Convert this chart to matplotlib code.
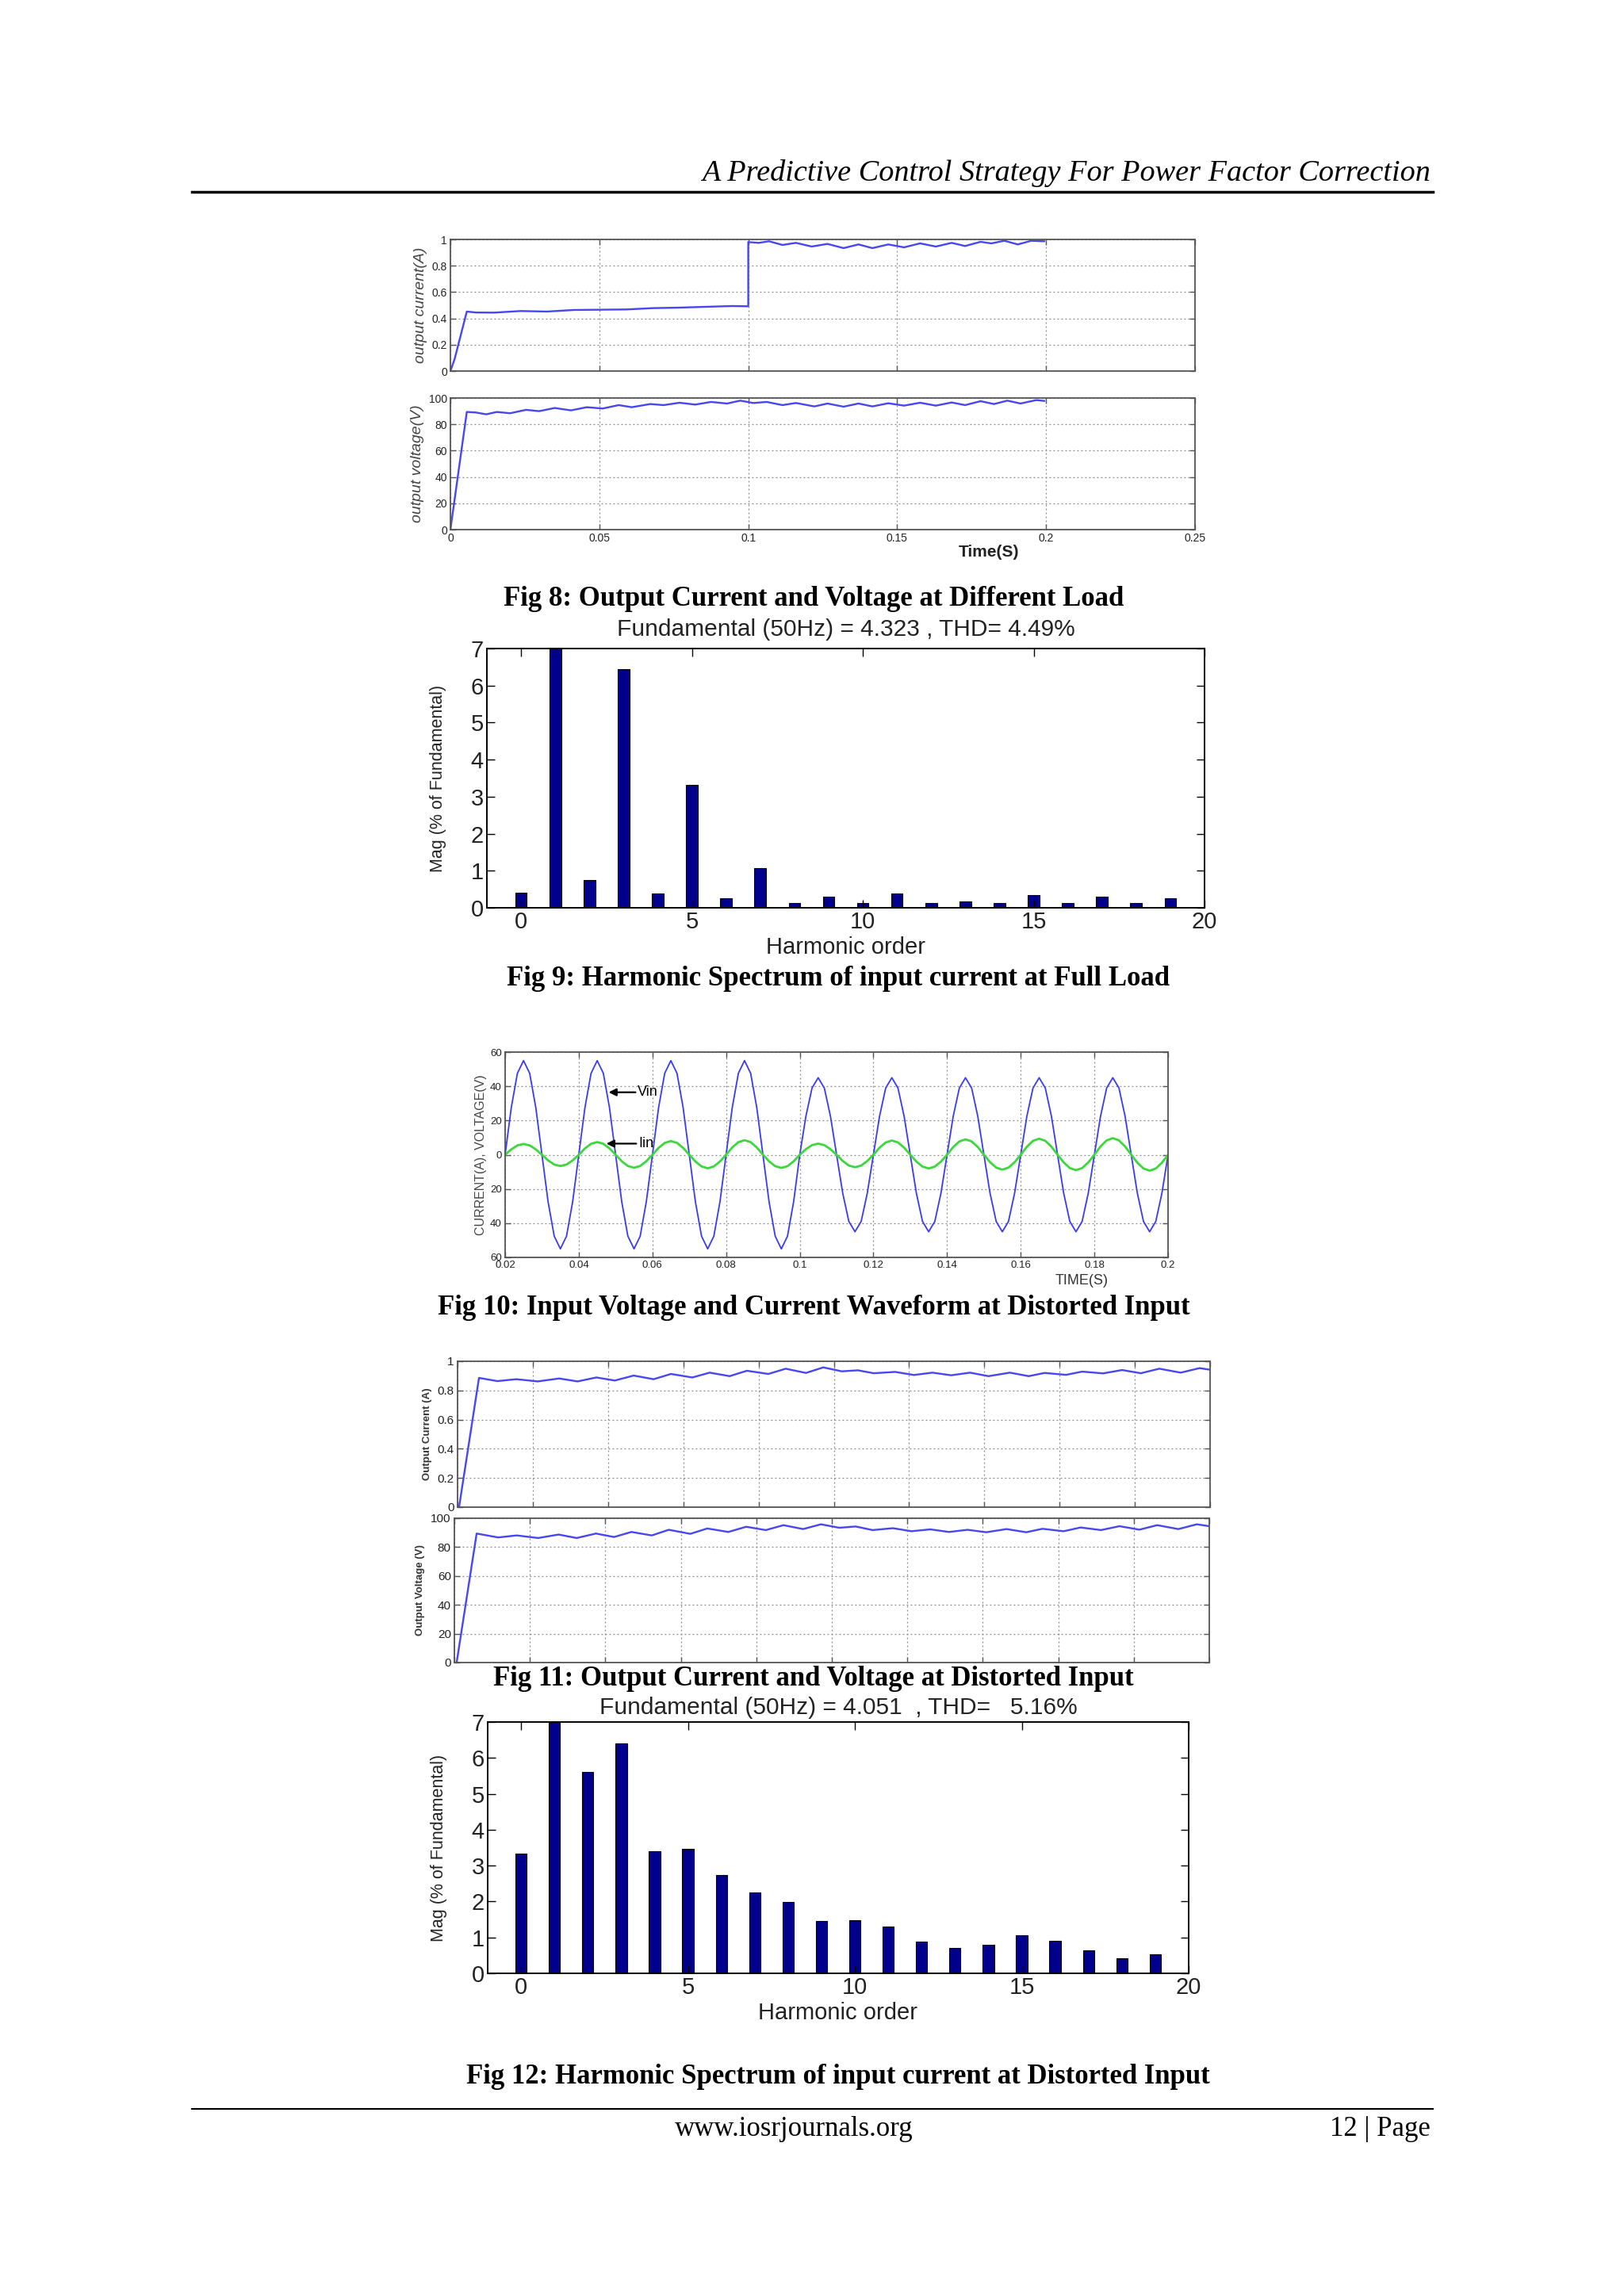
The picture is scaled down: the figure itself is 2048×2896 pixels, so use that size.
import numpy as np
import matplotlib
matplotlib.use('Agg')
import matplotlib.pyplot as plt
from matplotlib.lines import Line2D

# ==============================================================================
# Page of figures 8-12 : output current/voltage, harmonic spectra, Vin/Iin
# values (approximate)
# ==============================================================================

# ---- Fig 8 : output current / voltage at different load ----
F8_T_I = [0, 0.0014, 0.0055, 0.0085, 0.0147, 0.0236, 0.0325, 0.0414, 0.0502, 0.059,
          0.068, 0.0769, 0.0858, 0.0946, 0.1, 0.1, 0.1035, 0.107, 0.1115, 0.116,
          0.1213, 0.1266, 0.132, 0.137, 0.1417, 0.147, 0.1523, 0.1577, 0.163, 0.1683,
          0.1728, 0.178, 0.1816, 0.186, 0.1905, 0.195, 0.1994]
F8_I = [0, 0.09, 0.452, 0.445, 0.444, 0.456, 0.452, 0.464, 0.466, 0.468,
        0.478, 0.482, 0.488, 0.494, 0.492, 0.98, 0.974, 0.986, 0.958, 0.974,
        0.946, 0.966, 0.934, 0.962, 0.934, 0.962, 0.940, 0.970, 0.946, 0.974,
        0.950, 0.982, 0.970, 0.990, 0.962, 0.990, 0.986]
F8_T_V = [0, 0.0055, 0.0085, 0.012, 0.0156, 0.02, 0.0254, 0.0298, 0.035, 0.0405,
          0.0458, 0.0511, 0.0565, 0.0609, 0.0671, 0.0716, 0.0769, 0.0822, 0.0875, 0.0929,
          0.0973, 0.1017, 0.1062, 0.1115, 0.116, 0.1222, 0.1266, 0.132, 0.137, 0.1417,
          0.147, 0.1523, 0.1577, 0.163, 0.1683, 0.1728, 0.178, 0.1825, 0.187, 0.1914,
          0.1967, 0.1994]
F8_V = [0, 89.4, 89, 87.6, 89.4, 88.4, 91, 90, 92.4, 90.6,
        93, 92, 94.6, 93, 95.4, 94.6, 96.4, 95, 97, 95.8,
        98, 96.2, 97, 94.6, 96.2, 93.6, 95.8, 93.4, 95.8, 93.6,
        96, 94.2, 96.4, 94.2, 96.6, 94.6, 97.6, 95.4, 98, 95.8,
        98.4, 97.8]
F8_XTICKS = [0, 0.05, 0.1, 0.15, 0.2, 0.25]
F8_XLABELS = ['0', '0.05', '0.1', '0.15', '0.2', '0.25']

# ---- Fig 9 / Fig 12 : harmonic spectra (% of fundamental, fundamental clipped) ----
HARMONIC = list(range(20))
F9_MAG = [0.41, 100, 0.75, 6.45, 0.385, 3.31, 0.25, 1.08, 0.12, 0.31,
          0.12, 0.385, 0.12, 0.18, 0.12, 0.35, 0.12, 0.31, 0.12, 0.25]
F12_MAG = [3.33, 100, 5.61, 6.40, 3.40, 3.47, 2.73, 2.26, 1.98, 1.45,
           1.49, 1.31, 0.88, 0.70, 0.80, 1.07, 0.905, 0.63, 0.43, 0.54]
F9_TITLE = 'Fundamental (50Hz) = 4.323 , THD= 4.49%'
F12_TITLE = 'Fundamental (50Hz) = 4.051  , THD=   5.16%'

# ---- Fig 10 : input voltage / current, sampled every 1/12 of a 50 Hz period ----
F10_T = np.linspace(0.02, 0.2, 109)
F10_VIN = [
    0, 27.5, 47.6, 55, 47.6, 27.5, 0, -27.5, -47.6, -55, -47.6, -27.5,
    0, 27.5, 47.6, 55, 47.6, 27.5, 0, -27.5, -47.6, -55, -47.6, -27.5,
    0, 27.5, 47.6, 55, 47.6, 27.5, 0, -27.5, -47.6, -55, -47.6, -27.5,
    0, 27.5, 47.6, 55, 47.6, 27.5, 0, -27.5, -47.6, -55, -47.6, -27.5,
    0, 22.5, 39.0, 45, 39.0, 22.5, 0, -22.5, -39.0, -45, -39.0, -22.5,
    0, 22.5, 39.0, 45, 39.0, 22.5, 0, -22.5, -39.0, -45, -39.0, -22.5,
    0, 22.5, 39.0, 45, 39.0, 22.5, 0, -22.5, -39.0, -45, -39.0, -22.5,
    0, 22.5, 39.0, 45, 39.0, 22.5, 0, -22.5, -39.0, -45, -39.0, -22.5,
    0, 22.5, 39.0, 45, 39.0, 22.5, 0, -22.5, -39.0, -45, -39.0, -22.5,
    0]
F10_IIN = [
    0, 3.15, 5.46, 6.3, 5.46, 3.15, 0, -3.3, -5.72, -6.6, -5.72, -3.3,
    0, 3.7, 6.41, 7.4, 6.41, 3.7, 0, -3.8, -6.58, -7.6, -6.58, -3.8,
    0, 4.0, 6.93, 8.0, 6.93, 4.0, 0, -3.95, -6.84, -7.9, -6.84, -3.95,
    0, 4.25, 7.36, 8.5, 7.36, 4.25, 0, -3.85, -6.67, -7.7, -6.67, -3.85,
    0, 3.25, 5.63, 6.5, 5.63, 3.25, 0, -3.65, -6.32, -7.3, -6.32, -3.65,
    0, 4.15, 7.19, 8.3, 7.19, 4.15, 0, -4.0, -6.93, -8.0, -6.93, -4.0,
    0, 4.5, 7.79, 9.0, 7.79, 4.5, 0, -4.35, -7.53, -8.7, -7.53, -4.35,
    0, 4.7, 8.14, 9.4, 8.14, 4.7, 0, -4.5, -7.79, -9.0, -7.79, -4.5,
    0, 4.85, 8.40, 9.7, 8.40, 4.85, 0, -4.65, -8.05, -9.3, -8.05, -4.65,
    0]
F10_XTICKS = [0.02, 0.04, 0.06, 0.08, 0.1, 0.12, 0.14, 0.16, 0.18, 0.2]
F10_XLABELS = ['0.02', '0.04', '0.06', '0.08', '0.1', '0.12', '0.14', '0.16', '0.18', '0.2']
F10_YTICKS = [-60, -40, -20, 0, 20, 40, 60]
F10_YLABELS = ['60', '40', '20', '0', '20', '40', '60']

# ---- Fig 11 : output current / voltage at distorted input ----
F11_T_I = [0.0004, 0.0057, 0.0106, 0.0156, 0.0213, 0.027, 0.0319, 0.0369, 0.0418, 0.0468,
           0.0521, 0.0567, 0.0624, 0.067, 0.0723, 0.0769, 0.0826, 0.0872, 0.0926, 0.0972,
           0.1021, 0.1064, 0.1106, 0.1163, 0.1213, 0.1262, 0.1312, 0.1362, 0.1411, 0.1468,
           0.1518, 0.156, 0.1617, 0.166, 0.1716, 0.1766, 0.1816, 0.1865, 0.1922, 0.1972, 0.2]
F11_I = [0, 0.886, 0.864, 0.877, 0.862, 0.882, 0.862, 0.889, 0.868, 0.902,
         0.877, 0.913, 0.889, 0.922, 0.898, 0.935, 0.913, 0.949, 0.920, 0.958,
         0.931, 0.938, 0.918, 0.927, 0.906, 0.922, 0.904, 0.922, 0.898, 0.922,
         0.898, 0.920, 0.907, 0.929, 0.917, 0.940, 0.918, 0.949, 0.922, 0.953, 0.942]
F11_T_V = [0.0006, 0.0059, 0.0116, 0.0165, 0.0222, 0.0276, 0.0324, 0.0375, 0.0423, 0.0469,
           0.0523, 0.0568, 0.0625, 0.067, 0.0726, 0.0773, 0.0825, 0.0872, 0.0924, 0.0971,
           0.102, 0.1063, 0.1108, 0.1162, 0.1211, 0.1261, 0.131, 0.136, 0.1409, 0.1463,
           0.1515, 0.1558, 0.1614, 0.1659, 0.1713, 0.1762, 0.1815, 0.1862, 0.1918, 0.1967, 0.2]
F11_V = [0, 89.4, 86.7, 88.1, 86.3, 88.7, 86.3, 89.4, 87.0, 90.5,
         88.1, 92.0, 89.2, 92.9, 90.5, 94.1, 91.8, 95.2, 92.5, 95.8,
         93.4, 94.3, 91.8, 93.1, 91.0, 92.3, 90.5, 92.0, 90.3, 92.5,
         90.3, 92.7, 91.0, 93.6, 91.8, 94.5, 92.1, 95.2, 92.5, 95.8, 94.5]
F11_XTICKS = [0, 0.02, 0.04, 0.06, 0.08, 0.1, 0.12, 0.14, 0.16, 0.18, 0.2]

CURRENT_TICKS = [0, 0.2, 0.4, 0.6, 0.8, 1]
CURRENT_LABELS = ['0', '0.2', '0.4', '0.6', '0.8', '1']
VOLT_TICKS = [0, 20, 40, 60, 80, 100]
VOLT_LABELS = ['0', '20', '40', '60', '80', '100']

CAPTIONS = [
    ('Fig 8: Output Current and Voltage at Different Load', 1026, 755),
    ('Fig 9: Harmonic Spectrum of input current at Full Load', 1057, 1234),
    ('Fig 10: Input Voltage and Current Waveform at Distorted Input', 1026, 1650),
    ('Fig 11: Output Current and Voltage at Distorted Input', 1026, 2117),
    ('Fig 12: Harmonic Spectrum of input current at Distorted Input', 1057, 2620),
]

W, H = 2048, 2896
SANS = ['Liberation Sans', 'DejaVu Sans']
SERIF = ['Liberation Serif', 'DejaVu Serif']
LINE_BLUE = '#4646f5'
BAR_BLUE = '#00008c'


def add_ax(fig, left, top, right, bottom):
    return fig.add_axes([left / W, 1 - bottom / H, (right - left) / W, (bottom - top) / H])


def matlab_box(ax, frame='#555555', lw=1.3, size=9, length=5):
    for s in ax.spines.values():
        s.set_color(frame)
        s.set_linewidth(lw)
    ax.tick_params(direction='in', top=True, right=True, length=length, width=1,
                   color=frame, labelsize=size, labelcolor='#222222', pad=3)
    for lab in ax.get_xticklabels() + ax.get_yticklabels():
        lab.set_family(SANS)


def dotted_grid(ax):
    ax.grid(True, ls=(0, (1.5, 2.5)), color='#888888', lw=0.9)
    ax.set_axisbelow(True)


def time_panel(ax, t, y, ylim, yticks, ylabels, xlim, xticks, show_x, xlabels=None):
    ax.plot(t, y, color=LINE_BLUE, lw=1.7)
    ax.set_xlim(*xlim)
    ax.set_ylim(*ylim)
    ax.set_xticks(xticks)
    ax.set_yticks(yticks)
    ax.set_yticklabels(ylabels)
    if show_x:
        ax.set_xticklabels(xlabels)
    else:
        ax.set_xticklabels([])
    dotted_grid(ax)


def spectrum(fig, ax, mags, title, title_y):
    ax.bar(HARMONIC, mags, width=0.34, color=BAR_BLUE, edgecolor='black', lw=0.8)
    ax.set_xlim(-1, 20)
    ax.set_ylim(0, 7)
    ax.set_xticks([0, 5, 10, 15, 20])
    ax.set_yticks(range(8))
    matlab_box(ax, frame='black', lw=1.4, size=21, length=7)
    ax.set_xlabel('Harmonic order', fontsize=21, family=SANS, color='#222222', labelpad=3)
    ax.set_ylabel('Mag (% of Fundamental)', fontsize=15.5, family=SANS, color='#222222', labelpad=22)
    pos = ax.get_position()
    fig.text((pos.x0 + pos.x1) / 2, 1 - title_y / H, title, ha='center', va='center',
             fontsize=21.5, family=SANS, color='#222222')


def main():
    fig = plt.figure(figsize=(W / 100, H / 100), dpi=100)

    # ---- page header / footer ----
    fig.text(1804 / W, 1 - 218 / H, 'A Predictive Control Strategy For Power Factor Correction',
             ha='right', va='center', fontsize=27.5, style='italic', family=SERIF)
    fig.add_artist(Line2D([242 / W, 1807 / W], [1 - 242 / H] * 2, color='black', lw=2.5))
    fig.add_artist(Line2D([242 / W, 1807 / W], [1 - 2660 / H] * 2, color='black', lw=1.5))
    fig.text(1001 / W, 1 - 2686 / H, 'www.iosrjournals.org', ha='center', va='center',
             fontsize=25, family=SERIF)
    fig.text(1804 / W, 1 - 2686 / H, '12 | Page', ha='right', va='center',
             fontsize=25, family=SERIF)

    # ---- Fig 8 ----
    ax = add_ax(fig, 568, 302, 1507, 468)
    time_panel(ax, F8_T_I, F8_I, (0, 1), CURRENT_TICKS, CURRENT_LABELS, (0, 0.25), F8_XTICKS, False)
    matlab_box(ax, size=10)
    ax.set_ylabel('output current(A)', fontsize=14, style='italic', family=SANS, color='#444444', labelpad=4)
    ax = add_ax(fig, 568, 502, 1507, 668)
    time_panel(ax, F8_T_V, F8_V, (0, 100), VOLT_TICKS, VOLT_LABELS, (0, 0.25), F8_XTICKS, True, F8_XLABELS)
    matlab_box(ax, size=10)
    ax.set_ylabel('output voltage(V)', fontsize=14, style='italic', family=SANS, color='#444444', labelpad=4)
    fig.text(1247 / W, 1 - 697 / H, 'Time(S)', ha='center', va='center', fontsize=15,
             weight='bold', family=SANS, color='#222222')

    # ---- Fig 9 ----
    ax = add_ax(fig, 614, 818, 1519, 1145)
    spectrum(fig, ax, F9_MAG, F9_TITLE, 794)

    # ---- Fig 10 ----
    ax = add_ax(fig, 637, 1327, 1473, 1586)
    ax.plot(F10_T, F10_VIN, color='#3a3aee', lw=1.3)
    ax.plot(F10_T, F10_IIN, color='#3ad83a', lw=2.0)
    ax.set_xlim(0.02, 0.2)
    ax.set_ylim(-60, 60)
    ax.set_xticks(F10_XTICKS)
    ax.set_xticklabels(F10_XLABELS)
    ax.set_yticks(F10_YTICKS)
    ax.set_yticklabels(F10_YLABELS)
    dotted_grid(ax)
    matlab_box(ax, size=9.5)
    ax.set_ylabel('CURRENT(A), VOLTAGE(V)', fontsize=11.5, family=SANS, color='#444444', labelpad=3)
    arrow = dict(arrowstyle='-|>', color='black', lw=1.6, mutation_scale=14, shrinkA=0, shrinkB=0)
    ax.annotate('Vin', xy=(0.0481, 36.5), xytext=(0.0560, 36.5), va='center', fontsize=13,
                family=SANS, arrowprops=arrow)
    ax.annotate('Iin', xy=(0.0475, 6.5), xytext=(0.0562, 6.5), va='center', fontsize=13,
                family=SANS, arrowprops=arrow)
    fig.text(1364 / W, 1 - 1615 / H, 'TIME(S)', ha='center', va='center', fontsize=13,
             family=SANS, color='#333333')

    # ---- Fig 11 ----
    ax = add_ax(fig, 577, 1717, 1526, 1901)
    time_panel(ax, F11_T_I, F11_I, (0, 1), CURRENT_TICKS, CURRENT_LABELS, (0, 0.2), F11_XTICKS, False)
    matlab_box(ax, size=11)
    ax.set_ylabel('Output Current (A)', fontsize=9.5, weight='bold', family=SANS, color='#333333', labelpad=5)
    ax = add_ax(fig, 573, 1915, 1525, 2097)
    time_panel(ax, F11_T_V, F11_V, (0, 100), VOLT_TICKS, VOLT_LABELS, (0, 0.2), F11_XTICKS, False)
    matlab_box(ax, size=11)
    ax.set_ylabel('Output Voltage (V)', fontsize=9.5, weight='bold', family=SANS, color='#333333', labelpad=5)

    # ---- Fig 12 ----
    ax = add_ax(fig, 615, 2172, 1499, 2489)
    spectrum(fig, ax, F12_MAG, F12_TITLE, 2154)

    # ---- captions ----
    for text, x, y in CAPTIONS:
        fig.text(x / W, 1 - y / H, text, ha='center', va='center', fontsize=25,
                 weight='bold', family=SERIF)

    fig.savefig('out.png', dpi=100, facecolor='white')


if __name__ == '__main__':
    main()
